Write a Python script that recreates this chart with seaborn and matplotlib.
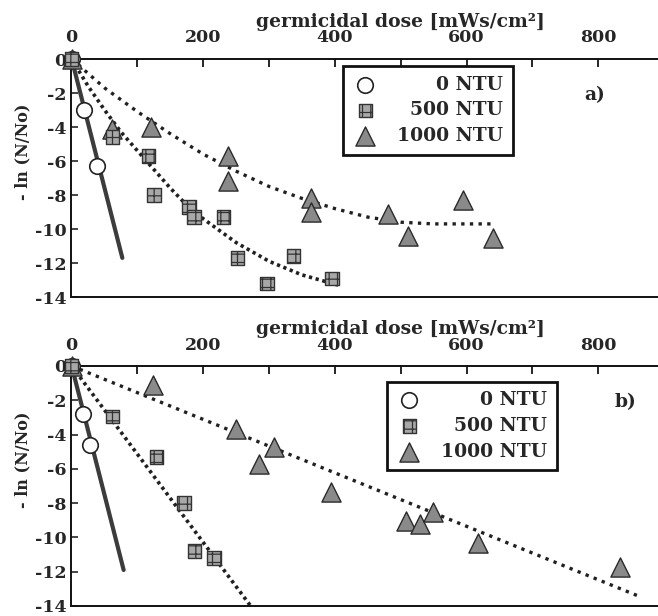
import matplotlib
matplotlib.use("Agg")
import matplotlib.pyplot as plt
import seaborn as sns
from matplotlib.ticker import MultipleLocator

# ---------------- data ----------------
# panel a)
a_ntu0_x = [0, 18, 39]
a_ntu0_y = [0, -3.0, -6.3]
a_ntu0_fit_x = [0, 77]
a_ntu0_fit_y = [0, -11.7]

a_ntu500_x = [0, 62, 117, 125, 178, 186, 231, 252, 297, 337, 396]
a_ntu500_y = [0, -4.6, -5.7, -8.0, -8.7, -9.3, -9.3, -11.7, -13.2, -11.6, -12.9]
a_ntu500_fit_x = [0, 25, 50, 75, 100, 125, 150, 175, 200, 250, 300, 350, 405]
a_ntu500_fit_y = [0, -1.6, -3.0, -4.3, -5.4, -6.5, -7.6, -8.6, -9.4, -10.8, -11.9, -12.7, -13.3]

a_ntu1000_x = [0, 62, 120, 238, 238, 363, 363, 481, 511, 595, 641]
a_ntu1000_y = [0, -4.1, -4.0, -5.7, -7.2, -8.2, -9.0, -9.1, -10.4, -8.3, -10.5]
a_ntu1000_fit_x = [0, 50, 100, 150, 200, 250, 300, 350, 400, 450, 500, 550, 600, 640]
a_ntu1000_fit_y = [0, -1.7, -3.1, -4.4, -5.6, -6.6, -7.5, -8.2, -8.8, -9.3, -9.6, -9.7, -9.7, -9.7]

# panel b)
b_ntu0_x = [0, 17, 28]
b_ntu0_y = [0, -2.8, -4.6]
b_ntu0_fit_x = [0, 79]
b_ntu0_fit_y = [0, -11.9]

b_ntu500_x = [0, 62, 129, 171, 187, 216]
b_ntu500_y = [0, -2.95, -5.3, -8.0, -10.8, -11.2]
b_ntu500_fit_x = [0, 272]
b_ntu500_fit_y = [0, -14.0]

b_ntu1000_x = [0, 124, 250, 308, 284, 394, 508, 530, 549, 617, 833]
b_ntu1000_y = [0, -1.1, -3.7, -4.75, -5.7, -7.35, -9.05, -9.2, -8.5, -10.35, -11.7]
b_ntu1000_fit_x = [0, 860]
b_ntu1000_fit_y = [0, -13.4]

legend_labels = ["\u2007\u2007\u20070 NTU", "\u2007500 NTU", "1000 NTU"]
panel_tags = ["a)", "b)"]
x_label = "germicidal dose [mWs/cm\u00b2]"
y_label = "- ln (N/No)"
x_major = [0, 200, 400, 600, 800]
y_major = [0, -2, -4, -6, -8, -10, -12, -14]

# ---------------- style ----------------
sns.set_style("ticks")
plt.rcParams["font.family"] = ["DejaVu Serif", "Liberation Serif"]
plt.rcParams["font.weight"] = "bold"
plt.rcParams["hatch.linewidth"] = 0.9

FS = 12.5
W, H = 658, 616
fig = plt.figure(figsize=(W / 100, H / 100), dpi=100)

def frac(l, t, r, b):
    return [l / W, 1 - b / H, (r - l) / W, (b - t) / H]

ax_a = fig.add_axes(frac(71, 59, 658, 297))
ax_b = fig.add_axes(frac(71, 366, 658, 606))

panels = [
    (ax_a,
     (a_ntu0_x, a_ntu0_y, a_ntu0_fit_x, a_ntu0_fit_y),
     (a_ntu500_x, a_ntu500_y, a_ntu500_fit_x, a_ntu500_fit_y),
     (a_ntu1000_x, a_ntu1000_y, a_ntu1000_fit_x, a_ntu1000_fit_y),
     (0.463, 0.97), (795, -2.1)),
    (ax_b,
     (b_ntu0_x, b_ntu0_y, b_ntu0_fit_x, b_ntu0_fit_y),
     (b_ntu500_x, b_ntu500_y, b_ntu500_fit_x, b_ntu500_fit_y),
     (b_ntu1000_x, b_ntu1000_y, b_ntu1000_fit_x, b_ntu1000_fit_y),
     (0.538, 0.935), (841, -2.1)),
]

for i, (ax, s0, s500, s1000, leg_anchor, tag_pos) in enumerate(panels):
    # fitted lines
    sns.lineplot(x=s0[2], y=s0[3], ax=ax, color="#3c3c3c", lw=3.0,
                 legend=False, zorder=2)
    sns.lineplot(x=s500[2], y=s500[3], ax=ax, color="#202020", lw=2.6,
                 linestyle=(0, (0.9, 1.0)), legend=False, zorder=2)
    sns.lineplot(x=s1000[2], y=s1000[3], ax=ax, color="#202020", lw=2.4,
                 linestyle=(0, (1.0, 1.6)), legend=False, zorder=2)
    # markers
    sns.scatterplot(x=s0[0], y=s0[1], ax=ax, marker="o", s=125,
                    facecolor="white", edgecolor="#222222", linewidth=1.2,
                    label=legend_labels[0], zorder=4, clip_on=False)
    sns.scatterplot(x=s1000[0], y=s1000[1], ax=ax, marker="^", s=190,
                    color="#8a8a8a", edgecolor="#2a2a2a", linewidth=1.0,
                    label=legend_labels[2], zorder=4, clip_on=False)
    sns.scatterplot(x=s500[0], y=s500[1], ax=ax, marker="s", s=95,
                    color="#a8a8a8", edgecolor="#333333", linewidth=1.0,
                    hatch="++", label=legend_labels[1], zorder=5, clip_on=False)

    ax.set_xlim(-1, 891)
    ax.set_ylim(-14, 0)
    ax.xaxis.tick_top()
    ax.xaxis.set_label_position("top")
    ax.set_xticks(x_major)
    ax.xaxis.set_minor_locator(MultipleLocator(100))
    ax.set_yticks(y_major)
    ax.set_xticklabels([str(v) for v in x_major], fontsize=FS, fontweight="bold")
    ax.set_yticklabels([str(v) for v in y_major], fontsize=FS,
                       fontweight="bold")
    ax.tick_params(axis="x", which="both", direction="in", length=6, width=1.4,
                   pad=9, top=True, bottom=False)
    ax.tick_params(axis="y", which="both", direction="in", length=5, width=1.2,
                   pad=3, left=True, right=False)
    for side in ["top", "left", "bottom"]:
        ax.spines[side].set_linewidth(1.4)
        ax.spines[side].set_color("#111111")
    ax.spines["right"].set_visible(False)

    ax.set_xlabel(x_label, fontsize=13.5, fontweight="bold")
    ax.xaxis.set_label_coords(0.562, 1.135)
    ax.set_ylabel(y_label, fontsize=11.5, fontweight="bold")
    ax.yaxis.set_label_coords(-0.068, 0.61)

    ax.text(tag_pos[0], tag_pos[1], panel_tags[i], fontsize=FS + 1,
            fontweight="bold", ha="center", va="center")

    handles, labels = ax.get_legend_handles_labels()
    order = [labels.index(l) for l in legend_labels]
    leg = ax.legend([handles[k] for k in order], [labels[k] for k in order],
                    loc="upper left", bbox_to_anchor=leg_anchor,
                    frameon=True, fancybox=False, framealpha=1,
                    edgecolor="#111111", fontsize=13.5, handletextpad=1.0,
                    borderpad=0.5, labelspacing=0.42, handlelength=1.4,
                    borderaxespad=0)
    leg.get_frame().set_linewidth(2.0)

fig.savefig("out.png", dpi=100)
